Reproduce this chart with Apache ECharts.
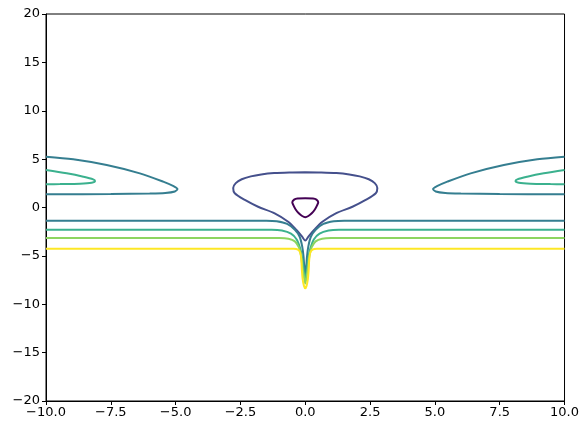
<!DOCTYPE html>
<html>
<head>
<meta charset="utf-8">
<script src="https://cdn.jsdelivr.net/npm/echarts@6/dist/echarts.min.js"></script>
<style>
  html, body { margin: 0; padding: 0; background: #fff; }
  #chart { width: 582px; height: 425px; }
</style>
</head>
<body>
<div id="chart"></div>
<script>
// contour paths, [x, y] pairs
const innerLoop = [
  [0, 0.95], [-0.3, 0.93], [-0.43, 0.82], [-0.5, 0.55], [-0.46, 0.25], [-0.37, -0.2],
  [-0.25, -0.6], [-0.12, -0.88], [0, -1.0], [0.12, -0.88], [0.25, -0.6], [0.37, -0.2],
  [0.46, 0.25], [0.5, 0.55], [0.43, 0.82], [0.3, 0.93], [0, 0.95]
];
const bigLoop = [
  [0, 3.64], [-0.6, 3.62], [-1.2, 3.56], [-1.7, 3.42], [-2.1, 3.22], [-2.45, 2.92],
  [-2.68, 2.52], [-2.78, 2.02], [-2.72, 1.47], [-2.33, 0.78], [-1.82, 0.08], [-1.18, -0.6],
  [-0.66, -1.47], [-0.34, -2.33], [-0.12, -3.02], [0, -3.42],
  [0.12, -3.02], [0.34, -2.33], [0.66, -1.47], [1.18, -0.6], [1.82, 0.08], [2.33, 0.78],
  [2.72, 1.47], [2.78, 2.02], [2.68, 2.52], [2.45, 2.92], [2.1, 3.22], [1.7, 3.42],
  [1.2, 3.56], [0.6, 3.62], [0, 3.64]
];
const tealLobeLeft = [
  [-10, 5.25], [-8.95, 4.98], [-7.66, 4.39], [-6.38, 3.53], [-5.48, 2.67], [-5.08, 2.2],
  [-4.93, 1.91], [-5.03, 1.66], [-5.4, 1.5], [-6.0, 1.44], [-7.5, 1.39], [-10, 1.36]
];
const tealLobeRight = [
  [10, 5.25], [8.95, 4.98], [7.66, 4.39], [6.38, 3.53], [5.48, 2.67], [5.08, 2.2],
  [4.93, 1.91], [5.03, 1.66], [5.4, 1.5], [6.0, 1.44], [7.5, 1.39], [10, 1.36]
];
const greenLobeLeft = [
  [-10, 3.88], [-9.2, 3.53], [-8.56, 3.18], [-8.18, 2.91], [-8.11, 2.74], [-8.24, 2.56],
  [-8.69, 2.46], [-9.46, 2.42], [-10, 2.4]
];
const greenLobeRight = [
  [10, 3.88], [9.2, 3.53], [8.56, 3.18], [8.18, 2.91], [8.11, 2.74], [8.24, 2.56],
  [8.69, 2.46], [9.46, 2.42], [10, 2.4]
];
const tealLine = [
  [-10, -1.36], [-1.5, -1.36], [-1.1, -1.42], [-0.7, -1.7], [-0.4, -2.3], [-0.22, -3.0],
  [-0.12, -4.0], [-0.07, -5.0], [-0.04, -6.0], [0, -6.9],
  [0.04, -6.0], [0.07, -5.0], [0.12, -4.0], [0.22, -3.0], [0.4, -2.3], [0.7, -1.7],
  [1.1, -1.42], [1.5, -1.36], [10, -1.36]
];
const greenLine = [
  [-10, -2.3], [-1.3, -2.3], [-0.9, -2.38], [-0.55, -2.7], [-0.33, -3.3], [-0.2, -4.2],
  [-0.12, -5.2], [-0.07, -6.3], [0, -7.4],
  [0.07, -6.3], [0.12, -5.2], [0.2, -4.2], [0.33, -3.3], [0.55, -2.7], [0.9, -2.38],
  [1.3, -2.3], [10, -2.3]
];
const limeLine = [
  [-10, -3.15], [-1.0, -3.15], [-0.65, -3.22], [-0.4, -3.5], [-0.25, -4.1], [-0.16, -5.0],
  [-0.11, -6.2], [-0.06, -7.0], [0, -7.85],
  [0.06, -7.0], [0.11, -6.2], [0.16, -5.0], [0.25, -4.1], [0.4, -3.5], [0.65, -3.22],
  [1.0, -3.15], [10, -3.15]
];
const yellowLine = [
  [-10, -4.27], [-0.45, -4.27], [-0.28, -4.35], [-0.19, -4.7], [-0.15, -5.5], [-0.13, -6.5],
  [-0.1, -7.4], [-0.05, -8.1], [0, -8.35],
  [0.05, -8.1], [0.1, -7.4], [0.13, -6.5], [0.15, -5.5], [0.19, -4.7], [0.28, -4.35],
  [0.45, -4.27], [10, -4.27]
];

const chart = echarts.init(document.getElementById('chart'));

function contour(data, color) {
  return {
    type: 'line',
    data: data,
    showSymbol: false,
    smooth: 0.3,
    lineStyle: { color: color, width: 2 },
    animation: false,
    silent: true
  };
}

const minus = v => (v < 0 ? '\u2212' : '') + Math.abs(v);

chart.setOption({
  animation: false,
  grid: { left: 46, right: 17, top: 14, bottom: 24, show: true, borderColor: '#000', borderWidth: 1 },
  xAxis: {
    type: 'value', min: -10, max: 10, interval: 2.5,
    axisLine: { onZero: false, lineStyle: { color: '#000' } },
    axisTick: { length: 4, lineStyle: { color: '#000' } },
    splitLine: { show: false },
    axisLabel: {
      color: '#000', fontSize: 13, fontFamily: 'DejaVu Sans', margin: 5,
      formatter: v => (v < 0 ? '\u2212' : '') + Math.abs(v).toFixed(1)
    }
  },
  yAxis: {
    type: 'value', min: -20, max: 20, interval: 5,
    axisLine: { show: true, onZero: false, lineStyle: { color: '#000' } },
    axisTick: { show: true, length: 4, lineStyle: { color: '#000' } },
    splitLine: { show: false },
    axisLabel: { color: '#000', fontSize: 13, fontFamily: 'DejaVu Sans', margin: 6, formatter: minus }
  },
  series: [
    contour(innerLoop, '#440154'),
    contour(bigLoop, '#45508c'),
    contour(tealLobeLeft, '#357e90'),
    contour(tealLobeRight, '#357e90'),
    contour(tealLine, '#357e90'),
    contour(greenLobeLeft, '#3bb18e'),
    contour(greenLobeRight, '#3bb18e'),
    contour(greenLine, '#3bb18e'),
    contour(limeLine, '#8cd560'),
    contour(yellowLine, '#fde725')
  ]
});
</script>
</body>
</html>
